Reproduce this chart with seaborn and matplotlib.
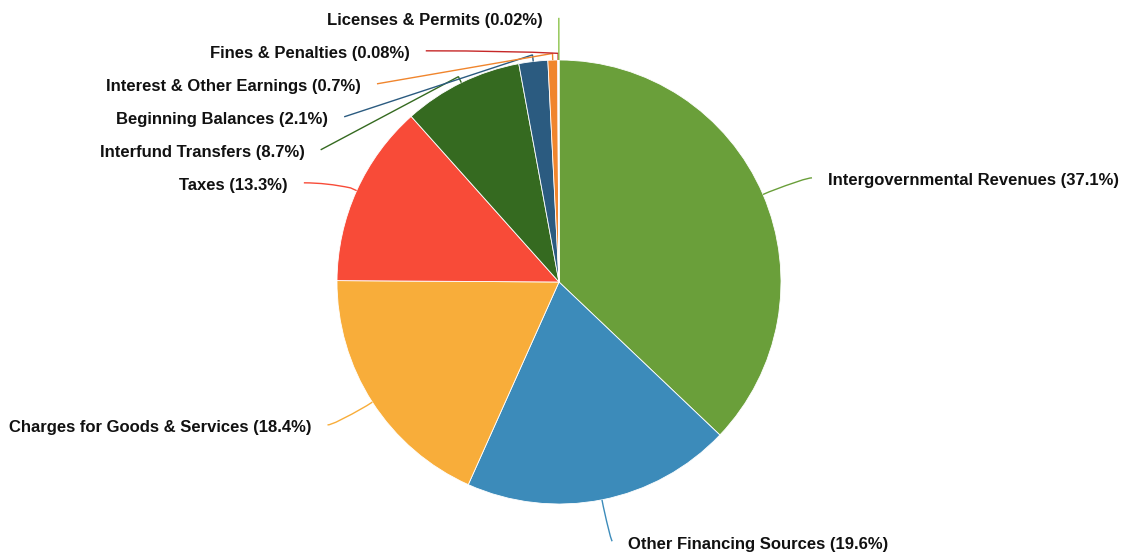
import numpy as np
import matplotlib
matplotlib.use("Agg")
import matplotlib.pyplot as plt
from matplotlib.path import Path
from matplotlib.patches import PathPatch
import seaborn as sns

categories = [
    "Intergovernmental Revenues",
    "Other Financing Sources",
    "Charges for Goods & Services",
    "Taxes",
    "Interfund Transfers",
    "Beginning Balances",
    "Interest & Other Earnings",
    "Fines & Penalties",
    "Licenses & Permits",
]
shares = [37.1, 19.6, 18.4, 13.3, 8.7, 2.1, 0.7, 0.08, 0.02]
share_labels = ["37.1%", "19.6%", "18.4%", "13.3%", "8.7%", "2.1%", "0.7%", "0.08%", "0.02%"]
slice_colors = ["#6a9f3a", "#3c8bba", "#f8ad3a", "#f84b38", "#356a20",
                "#2b5b80", "#f0852d", "#c62828", "#8bc34a"]

sns.set_theme(style="white")
plt.rcParams["font.family"] = ["Liberation Sans", "DejaVu Sans"]

W, H = 1123, 556
fig = plt.figure(figsize=(W / 100, H / 100), dpi=100)
ax = fig.add_axes([0, 0, 1, 1])

cx, cy, r = 559, 274, 222
palette = sns.color_palette(slice_colors)
ax.pie(shares, colors=palette, startangle=90, counterclock=False,
       center=(cx, cy), radius=r,
       wedgeprops=dict(edgecolor="white", linewidth=0.6))
ax.set_xlim(0, W)
ax.set_ylim(0, H)
ax.set_aspect("equal")
ax.axis("off")

# label anchors on an ellipse round the pie, pushed apart on each side
rx, ry, gap = 1.24 * r, 1.19 * r, 33
fr = np.array(shares) / sum(shares)
ends = np.cumsum(fr)
mids = 2 * np.pi * (ends - fr / 2)
ux, uy = np.sin(mids), np.cos(mids)
ax_pos = cx + rx * ux
ay_pos = cy + ry * uy

for side in (ux < 0, ux >= 0):
    idx = [i for i in np.argsort(-ay_pos) if side[i]]
    prev = None
    for i in idx:
        y = ay_pos[i]
        if prev is not None and y > prev - gap:
            y = prev - gap
            d = min(1.0, abs(y - cy) / ry)
            ax_pos[i] = cx + np.sign(ux[i]) * rx * np.sqrt(1 - d * d)
        ay_pos[i] = y
        prev = y

for i, name in enumerate(categories):
    ex, ey = cx + r * ux[i], cy + r * uy[i]
    qx, qy = cx + 1.03 * r * ux[i], cy + 1.03 * r * uy[i]
    axx, ayy = ax_pos[i], ay_pos[i]
    t = (ayy - cy) / uy[i] if abs(uy[i]) > 1e-9 else -1
    if 1.03 * r < t < 1.4 * r:
        kx, ky = cx + t * ux[i], cy + t * uy[i]
        kx = kx + 0.35 * (axx - kx)
    else:
        kx, ky = (qx + axx) / 2, (qy + ayy) / 2
    path = Path([(ex, ey), (qx, qy), (kx, ky), (axx, ayy)],
                [Path.MOVETO, Path.LINETO, Path.CURVE3, Path.CURVE3])
    ax.add_patch(PathPatch(path, fill=False, edgecolor=slice_colors[i], lw=1.0))
    right = ux[i] >= 0
    ax.text(axx + (16 if right else -16), ayy - 3, f"{name} ({share_labels[i]})",
            ha="left" if right else "right", va="center",
            fontsize=12, fontweight="bold", color="#111111")

fig.savefig("out.png", dpi=100)
